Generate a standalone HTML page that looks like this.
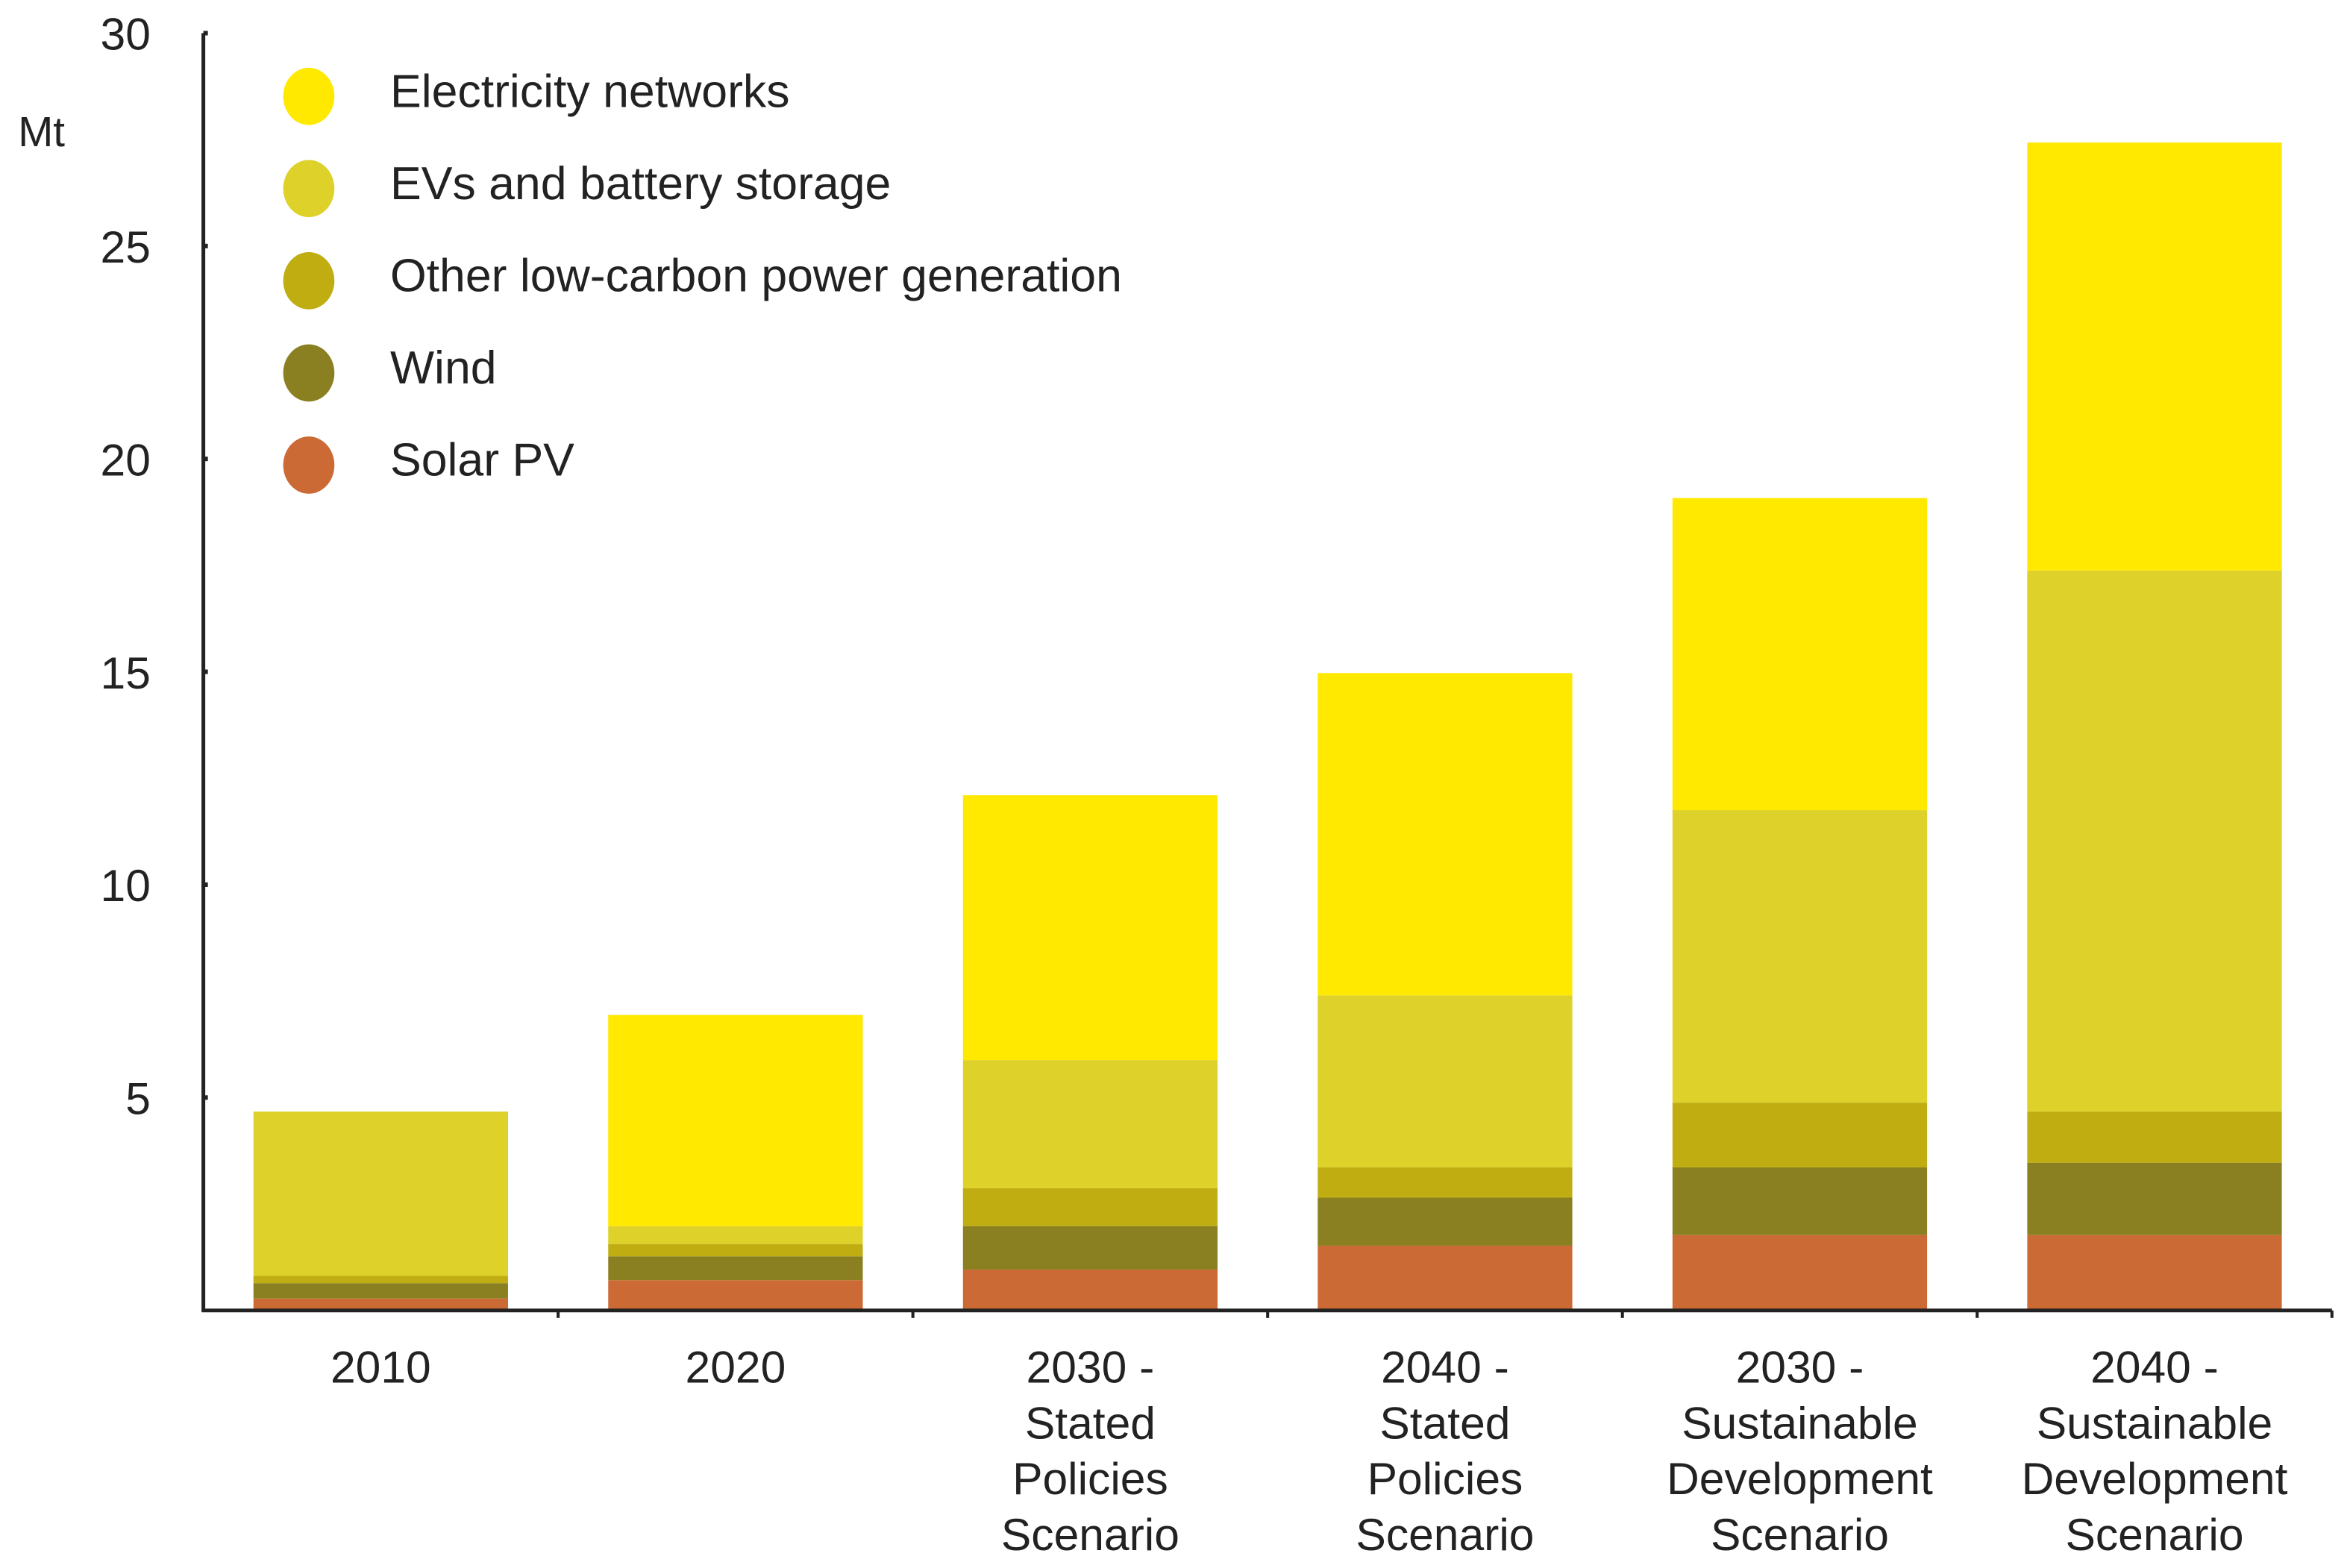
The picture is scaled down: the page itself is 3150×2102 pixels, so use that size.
<!DOCTYPE html>
<html><head><meta charset="utf-8"><style>
html,body{margin:0;padding:0;background:#fff;}
svg{display:block;}
text{font-family:"Liberation Sans",sans-serif;fill:#222;}
</style></head><body>
<svg id="chart" width="3150" height="2102" viewBox="0 0 1560 1041" preserveAspectRatio="none" xmlns="http://www.w3.org/2000/svg">
<g id="grid"></g>
<g id="bars"></g>
<g id="axes"></g>
<g id="legend"></g>
</svg>
<script>
const categories = [["2010"],["2020"],["2030 -","Stated","Policies","Scenario"],["2040 -","Stated","Policies","Scenario"],["2030 -","Sustainable","Development","Scenario"],["2040 -","Sustainable","Development","Scenario"]];
const seriesNames = ["Solar PV","Wind","Other low-carbon power generation","EVs and battery storage","Electricity networks"];
const solar = [0.28,0.71,0.96,1.52,1.77,1.77];
const wind = [0.36,0.56,1.02,1.13,1.59,1.70];
const otherLC = [0.17,0.29,0.89,0.71,1.52,1.20];
const evs = [3.86,0.42,3.01,4.04,6.87,12.71];
const networks = [0,4.96,6.22,7.57,7.33,10.05];
const yTicks = [5,10,15,20,25,30];
const colors = ["#CC6A35","#8A8021","#BFAD12","#DDD12A","#FFE900"];
const series = [solar,wind,otherLC,evs,networks];

const NS="http://www.w3.org/2000/svg";
const x0=135,x1=1548,yZero=870,yTop=22,yMax=30;
const y=v=>yZero-(v/yMax)*(yZero-yTop);
const band=(x1-x0)/categories.length;
const bw=169;
const cx=i=>x0+band*(i+0.5);
function mk(tag,attrs,parent){const e=document.createElementNS(NS,tag);for(const k in attrs)e.setAttribute(k,attrs[k]);parent.appendChild(e);return e;}
const bars=document.getElementById('bars'),axes=document.getElementById('axes'),legend=document.getElementById('legend');

categories.forEach((c,i)=>{
  let base=0;
  series.forEach((s,j)=>{
    const v=s[i];
    if(v>0){
      const r=mk('rect',{x:cx(i)-bw/2,y:y(base+v),width:bw,height:y(base)-y(base+v),fill:colors[j]},bars);
      
      
    }
    base+=v;
  });
  c.forEach((line,k)=>{
    const t=mk('text',{x:cx(i),y:918+k*37,'text-anchor':'middle','font-size':30},axes);
    t.textContent=line;
    
    
  });
  const tk=mk('line',{x1:x0+band*(i+1),x2:x0+band*(i+1),y1:yZero,y2:yZero+5,stroke:'#222','stroke-width':2},axes);
  
  
});

const ya=mk('line',{x1:x0,x2:x0,y1:yTop,y2:yZero+1,stroke:'#222','stroke-width':2.5},axes);


const xa=mk('line',{x1:x0-1,x2:x1,y1:yZero,y2:yZero,stroke:'#222','stroke-width':2.5},axes);



yTicks.forEach(v=>{
  const t=mk('text',{x:100,y:y(v)+11,'text-anchor':'end','font-size':30},axes);
  t.textContent=String(v);
  
  
  const tk=mk('line',{x1:x0,x2:x0+3,y1:y(v),y2:y(v),stroke:'#222','stroke-width':3},axes);
  
  
});
const yt=mk('text',{x:12,y:97,'font-size':28,fill:'#444'},axes);
yt.textContent='Mt';



const legOrder=[4,3,2,1,0];
legOrder.forEach((j,k)=>{
  const cy=64+k*61.2;
  const c=mk('ellipse',{cx:205,cy:cy,rx:17,ry:19,fill:colors[j]},legend);
  
  
  const t=mk('text',{x:259,y:cy+7,'font-size':31},legend);
  t.textContent=seriesNames[j];
  
  
});
</script>
</body></html>
